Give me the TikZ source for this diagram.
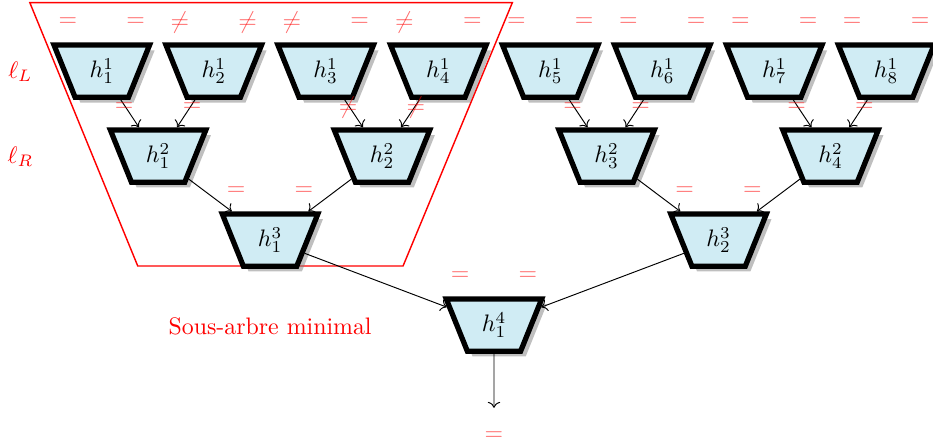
\documentclass[tikz,border=0pt]{standalone}
\usepackage{amsmath,amssymb}
\usepackage{tikz}
\usepackage{xcolor}
\usetikzlibrary{positioning,arrows.meta,shapes.geometric,calc,shadows}
\definecolor{hashfill}{RGB}{208,236,244}

\begin{document}
\begin{tikzpicture}[
          hash/.style={draw, trapezium, trapezium stretches=true, shape border rotate=180, trapezium angle=69, minimum width=1.41cm, minimum height=0.77cm, inner sep=1pt, line width=2.2pt, fill=hashfill, drop shadow},
          rel/.style={text=red, text opacity=0.6, inner sep=0pt},
          side/.style={text=red}
      ]
        \useasboundingbox (0,0) rectangle (13.75,-6.56);
        % minimal subtree frame
        \draw[red, semithick] (0.44,-0.04) -- (7.55,-0.04) -- (5.94,-3.92) -- (2.03,-3.92) -- cycle;
        \node[side] (lL) at (0.30,-1.06) {$\ell_L$};
        \node[side] (lR) at (0.30,-2.31) {$\ell_R$};
        \node[side] (sub) at (3.98,-4.81) {Sous-arbre minimal};
        % leaves
        \node[hash] (h11) at (1.50,-1.05) {$h_1^1$};
        \node[hash] (h12) at (3.15,-1.05) {$h_2^1$};
        \node[hash] (h13) at (4.80,-1.05) {$h_3^1$};
        \node[hash] (h14) at (6.46,-1.05) {$h_4^1$};
        \node[hash] (h15) at (8.11,-1.05) {$h_5^1$};
        \node[hash] (h16) at (9.76,-1.05) {$h_6^1$};
        \node[hash] (h17) at (11.41,-1.05) {$h_7^1$};
        \node[hash] (h18) at (13.06,-1.05) {$h_8^1$};
        % inner levels
        \node[hash] (h21) at (2.33,-2.30) {$h_1^2$};
        \node[hash] (h22) at (5.63,-2.30) {$h_2^2$};
        \node[hash] (h23) at (8.94,-2.30) {$h_3^2$};
        \node[hash] (h24) at (12.24,-2.30) {$h_4^2$};
        \node[hash] (h31) at (3.98,-3.54) {$h_1^3$};
        \node[hash] (h32) at (10.59,-3.54) {$h_2^3$};
        \node[hash] (h41) at (7.28,-4.79) {$h_1^4$};
        \coordinate (out) at (7.28,-6.01);
        % edges
        \draw[->] (h11) -- (h21);
        \draw[->] (h12) -- (h21);
        \draw[->] (h13) -- (h22);
        \draw[->] (h14) -- (h22);
        \draw[->] (h15) -- (h23);
        \draw[->] (h16) -- (h23);
        \draw[->] (h17) -- (h24);
        \draw[->] (h18) -- (h24);
        \draw[->] (h21) -- (h31);
        \draw[->] (h22) -- (h31);
        \draw[->] (h23) -- (h32);
        \draw[->] (h24) -- (h32);
        \draw[->] (h31) -- (h41);
        \draw[->] (h32) -- (h41);
        \draw[->] (h41) -- (out);
        % input relations
        \node[rel] (r11l) at ($(h11)+(-0.5,0.72)$) {$=$};    \node[rel] (r11r) at ($(h11)+(0.5,0.72)$) {$=$};
        \node[rel] (r12l) at ($(h12)+(-0.5,0.72)$) {$\neq$}; \node[rel] (r12r) at ($(h12)+(0.5,0.72)$) {$\neq$};
        \node[rel] (r13l) at ($(h13)+(-0.5,0.72)$) {$\neq$}; \node[rel] (r13r) at ($(h13)+(0.5,0.72)$) {$=$};
        \node[rel] (r14l) at ($(h14)+(-0.5,0.72)$) {$\neq$}; \node[rel] (r14r) at ($(h14)+(0.5,0.72)$) {$=$};
        \node[rel] (r15l) at ($(h15)+(-0.5,0.72)$) {$=$};    \node[rel] (r15r) at ($(h15)+(0.5,0.72)$) {$=$};
        \node[rel] (r16l) at ($(h16)+(-0.5,0.72)$) {$=$};    \node[rel] (r16r) at ($(h16)+(0.5,0.72)$) {$=$};
        \node[rel] (r17l) at ($(h17)+(-0.5,0.72)$) {$=$};    \node[rel] (r17r) at ($(h17)+(0.5,0.72)$) {$=$};
        \node[rel] (r18l) at ($(h18)+(-0.5,0.72)$) {$=$};    \node[rel] (r18r) at ($(h18)+(0.5,0.72)$) {$=$};
        \node[rel] (r21l) at ($(h21)+(-0.5,0.72)$) {$=$};    \node[rel] (r21r) at ($(h21)+(0.5,0.72)$) {$=$};
        \node[rel] (r22l) at ($(h22)+(-0.5,0.72)$) {$\neq$}; \node[rel] (r22r) at ($(h22)+(0.5,0.72)$) {$\neq$};
        \node[rel] (r23l) at ($(h23)+(-0.5,0.72)$) {$=$};    \node[rel] (r23r) at ($(h23)+(0.5,0.72)$) {$=$};
        \node[rel] (r24l) at ($(h24)+(-0.5,0.72)$) {$=$};    \node[rel] (r24r) at ($(h24)+(0.5,0.72)$) {$=$};
        \node[rel] (r31l) at ($(h31)+(-0.5,0.72)$) {$=$};    \node[rel] (r31r) at ($(h31)+(0.5,0.72)$) {$=$};
        \node[rel] (r32l) at ($(h32)+(-0.5,0.72)$) {$=$};    \node[rel] (r32r) at ($(h32)+(0.5,0.72)$) {$=$};
        \node[rel] (r41l) at ($(h41)+(-0.5,0.72)$) {$=$};    \node[rel] (r41r) at ($(h41)+(0.5,0.72)$) {$=$};
        \node[rel] (rout) [below=0.35cm of out] {$=$};
      \end{tikzpicture}
\end{document}
